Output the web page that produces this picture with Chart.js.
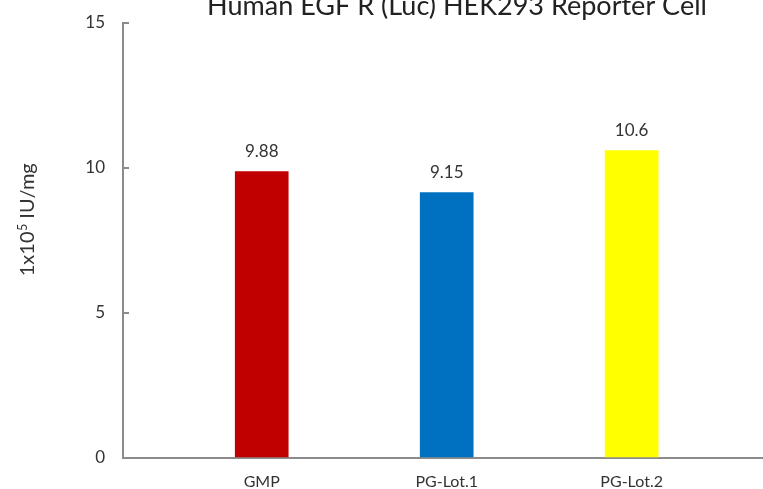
<!DOCTYPE html>
<html>
<head>
<meta charset="utf-8">
<script src="https://cdn.jsdelivr.net/npm/chart.js@4"></script>
<style>
  html, body { margin: 0; padding: 0; background: #fff; }
  #wrap { width: 763px; height: 489px; }
</style>
</head>
<body>
<div id="wrap"><canvas id="potencyChart" width="763" height="489"></canvas></div>
<script>
var chartTitle = 'Human EGF R (Luc) HEK293 Reporter Cell';
var yTitleBase = '1x10';
var yTitleExp = '5';
var yTitleUnit = ' IU/mg';
var categories = ['GMP', 'PG-Lot.1', 'PG-Lot.2'];
var potency = [9.88, 9.15, 10.6];
var valueLabels = ['9.88', '9.15', '10.6'];
var barColors = ['#C00000', '#0070C0', '#FFFF00'];
var yTicks = [0, 5, 10, 15];

var FONT = 'Lato, "Open Sans", sans-serif';
var AXIS_GREY = '#8c8c8c';

// titles + value labels, drawn on top of the chart
var textPlugin = {
    id: 'textPlugin',
    afterDraw: function(chart) {
        var ctx = chart.ctx;
        ctx.save();
        ctx.fillStyle = '#222';
        ctx.font = '27px ' + FONT;
        ctx.textAlign = 'center';
        ctx.textBaseline = 'alphabetic';
        ctx.fillText(chartTitle, 457, 15);
        ctx.restore();

        // rotated y title with a real superscript
        ctx.save();
        ctx.translate(27, 220);
        ctx.rotate(-Math.PI / 2);
        ctx.fillStyle = '#333';
        ctx.textAlign = 'left';
        ctx.textBaseline = 'alphabetic';
        var big = '20px ' + FONT, small = '12.5px ' + FONT;
        ctx.font = big;
        var w1 = ctx.measureText(yTitleBase).width;
        var w3 = ctx.measureText(yTitleUnit).width;
        ctx.font = small;
        var w2 = ctx.measureText(yTitleExp).width;
        var x = -(w1 + w2 + w3) / 2;
        ctx.font = big;
        ctx.fillText(yTitleBase, x, 7);
        ctx.font = small;
        ctx.fillText(yTitleExp, x + w1 + 0.5, 0);
        ctx.font = big;
        ctx.fillText(yTitleUnit, x + w1 + w2 + 0.5, 7);
        ctx.restore();

        ctx.save();
        ctx.font = '17px ' + FONT;
        ctx.fillStyle = '#333';
        ctx.textAlign = 'center';
        ctx.textBaseline = 'middle';
        chart.getDatasetMeta(0).data.forEach(function(bar, i) {
            ctx.fillText(valueLabels[i], bar.x, bar.y - 20);
        });
        ctx.restore();
    }
};

document.addEventListener('DOMContentLoaded', function() {
    var ctx = document.getElementById('potencyChart').getContext('2d');
    new Chart(ctx, {
        type: 'bar',
        data: {
            datasets: [{
                data: potency.map(function(v, i) { return { x: i, y: v }; }),
                backgroundColor: barColors,
                borderWidth: 0,
                barThickness: 53
            }]
        },
        options: {
            responsive: false,
            animation: false,
            layout: { padding: { top: 23, left: 0, right: 0, bottom: 0 } },
            plugins: {
                legend: { display: false },
                tooltip: { enabled: false }
            },
            scales: {
                x: {
                    type: 'linear',
                    offset: false,
                    min: -0.75,
                    max: 2.71,
                    grid: { display: false, drawTicks: false },
                    border: { display: true, color: AXIS_GREY, width: 2 },
                    afterBuildTicks: function(scale) {
                        scale.ticks = categories.map(function(c, i) { return { value: i }; });
                    },
                    afterFit: function(scale) {
                        scale.height = 31;
                        scale.paddingLeft = 0;
                        scale.paddingRight = 0;
                    },
                    ticks: {
                        padding: 14.5,
                        color: '#333',
                        font: { family: FONT, size: 16 },
                        callback: function(v) { return categories[v]; }
                    }
                },
                y: {
                    min: 0,
                    max: 15,
                    afterBuildTicks: function(scale) {
                        scale.ticks = yTicks.map(function(v) { return { value: v }; });
                    },
                    afterFit: function(scale) {
                        scale.width = 123;
                        scale.paddingTop = 0;
                        scale.paddingBottom = 0;
                    },
                    grid: {
                        display: true,
                        drawOnChartArea: false,
                        drawTicks: true,
                        tickLength: -6,
                        color: AXIS_GREY,
                        lineWidth: 2
                    },
                    border: { display: true, color: AXIS_GREY, width: 2 },
                    ticks: {
                        padding: 24,
                        color: '#333',
                        font: { family: FONT, size: 17 }
                    }
                }
            }
        },
        plugins: [textPlugin]
    });
});
</script>
</body>
</html>
